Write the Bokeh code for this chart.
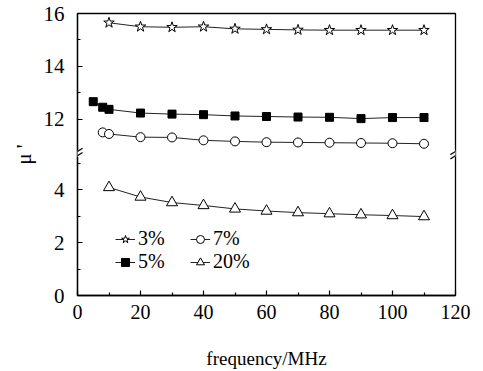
from bokeh.plotting import figure
from bokeh.models import FixedTicker, Legend, LegendItem, Arrow
from bokeh.embed import file_html
from bokeh.resources import INLINE

# ---- data ----
freq_3 = [10, 20, 30, 40, 50, 60, 70, 80, 90, 100, 110]
mu_3 = [15.65, 15.50, 15.48, 15.50, 15.42, 15.40, 15.38, 15.37, 15.37, 15.37, 15.37]

freq_5 = [5, 8, 10, 20, 30, 40, 50, 60, 70, 80, 90, 100, 110]
mu_5 = [12.67, 12.46, 12.38, 12.24, 12.20, 12.18, 12.13, 12.11, 12.09, 12.08, 12.03, 12.07, 12.07]

freq_7 = [8, 10, 20, 30, 40, 50, 60, 70, 80, 90, 100, 110]
mu_7 = [11.51, 11.45, 11.33, 11.32, 11.21, 11.17, 11.14, 11.13, 11.12, 11.11, 11.10, 11.08]

freq_20 = [10, 20, 30, 40, 50, 60, 70, 80, 90, 100, 110]
mu_20 = [4.08, 3.72, 3.51, 3.40, 3.27, 3.19, 3.13, 3.09, 3.05, 3.02, 2.98]

labels = ["3%", "5%", "7%", "20%"]
x_ticks = [0, 20, 40, 60, 80, 100, 120]
x_minor = [10, 30, 50, 70, 90, 110]
y_low_ticks = [0, 2, 4]
y_low_minor = [1, 3, 5]
y_high_ticks = [12, 14, 16]
y_high_minor = [13, 15]

# broken axis: values above the break are shifted down by OFFSET
OFFSET = 5.35
BREAK = 5.36


def disp(vals):
    return [v - OFFSET for v in vals]


FONT = "Liberation Serif"

p = figure(frame_width=378, frame_height=282, output_backend="svg", toolbar_location=None,
           x_range=(0, 120), y_range=(0, 16 - OFFSET),
           min_border_left=77, min_border_right=20, min_border_top=13, min_border_bottom=74)
p.grid.visible = False
p.background_fill_color = "white"
p.border_fill_color = "white"
p.outline_line_color = "black"
p.outline_line_width = 1.3

# x axis
xa = p.xaxis[0]
xa.ticker = FixedTicker(ticks=x_ticks, minor_ticks=x_minor)
xa.axis_label = "frequency/MHz"

# y axis
ya = p.yaxis[0]
yt = y_low_ticks + [v - OFFSET for v in y_high_ticks]
ym = y_low_minor + [v - OFFSET for v in y_high_minor]
ya.ticker = FixedTicker(ticks=yt, minor_ticks=ym)
ya.major_label_overrides = {t: str(l) for t, l in zip(yt, y_low_ticks + y_high_ticks)}
ya.axis_label = "μ '"

for ax in (xa, ya):
    ax.axis_line_width = 1.3
    ax.axis_line_color = "black"
    ax.major_tick_in = 5
    ax.major_tick_out = 0
    ax.minor_tick_in = 3
    ax.minor_tick_out = 0
    ax.major_tick_line_width = 1.2
    ax.minor_tick_line_width = 1.2
    ax.major_label_text_font = FONT
    ax.major_label_text_font_style = "normal"
    ax.major_label_text_color = "black"
    ax.axis_label_text_font = FONT
    ax.axis_label_text_font_style = "normal"
    ax.axis_label_text_color = "black"

xa.major_label_text_font_size = "20px"
ya.major_label_text_font_size = "21px"

xa.major_label_standoff = 9
xa.axis_label_text_font_size = "19px"
xa.axis_label_standoff = 26
ya.major_label_standoff = 13
ya.axis_label_text_font_size = "21px"
ya.axis_label_standoff = 5

# series
LW = 1.0
r3l = p.line(freq_3, disp(mu_3), line_color="#222222", line_width=LW)
r3m = p.scatter(freq_3, disp(mu_3), marker="star", size=11, fill_color="white",
                line_color="black", line_width=1)
r5l = p.line(freq_5, disp(mu_5), line_color="#222222", line_width=LW)
r5m = p.scatter(freq_5, disp(mu_5), marker="square", size=8, fill_color="black",
                line_color="black")
r7l = p.line(freq_7, disp(mu_7), line_color="#222222", line_width=LW)
r7m = p.scatter(freq_7, disp(mu_7), marker="circle", size=9, fill_color="white",
                line_color="black", line_width=1)
r20l = p.line(freq_20, mu_20, line_color="#222222", line_width=LW)
r20m = p.scatter(freq_20, mu_20, marker="triangle", size=11, fill_color="white",
                 line_color="black", line_width=1)

legend_style = dict(orientation="horizontal", padding=0, margin=0, spacing=2,
                    glyph_width=20, glyph_height=20, label_standoff=3, label_width=50,
                    label_height=20, label_text_font=FONT, label_text_font_size="20px",
                    label_text_font_style="normal",
                    label_text_color="black", border_line_color=None,
                    background_fill_alpha=0)
leg_a = Legend(items=[LegendItem(label=labels[0], renderers=[r3l, r3m]),
                      LegendItem(label=labels[2], renderers=[r7l, r7m])],
               location=(38, 45), **legend_style)
leg_b = Legend(items=[LegendItem(label=labels[1], renderers=[r5l, r5m]),
                      LegendItem(label=labels[3], renderers=[r20l, r20m])],
               location=(38, 22), **legend_style)
p.add_layout(leg_a, "center")
p.add_layout(leg_b, "center")

# axis break marks (white gap + two slashes) on both vertical frame edges
for xe in (0, 120):
    p.add_layout(Arrow(end=None, x_start=xe, y_start=BREAK - 0.12, x_end=xe, y_end=BREAK + 0.12,
                       line_color="white", line_width=5))
    for dy in (-0.08, 0.08):
        p.add_layout(Arrow(end=None, x_start=xe - 1.6, y_start=BREAK + dy - 0.12,
                           x_end=xe + 1.6, y_end=BREAK + dy + 0.12,
                           line_color="black", line_width=1.2))

open("out.html", "w").write(file_html(p, INLINE))
